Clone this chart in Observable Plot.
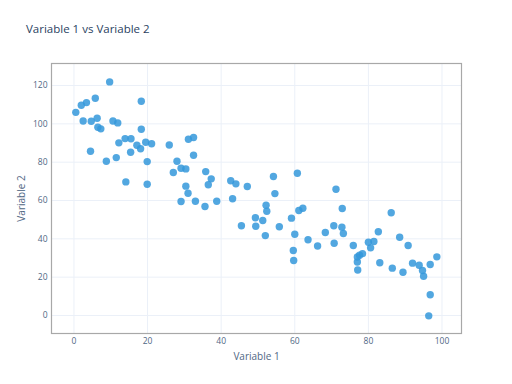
<!DOCTYPE html>
<html>
<head>
<meta charset="utf-8">
<script src="https://cdn.jsdelivr.net/npm/d3@7"></script>
<script src="https://cdn.jsdelivr.net/npm/@observablehq/plot@0.6"></script>
<style>
  html, body { margin: 0; padding: 0; background: #fff; }
  #wrap { position: relative; width: 512px; height: 384px; }
  #title { position: absolute; left: 26px; top: 21px; font: 11.5px "Open Sans", sans-serif; color: #2a3f5f; }
</style>
</head>
<body>
<div id="wrap"><div id="title">Variable 1 vs Variable 2</div></div>
<script>
const variable1 = [9.7,5.8,3.4,2.0,0.5,18.3,2.5,4.7,6.3,6.5,7.3,10.6,11.9,18.3,4.5,12.2,13.9,15.5,17.1,18.1,19.5,21.1,15.4,8.8,11.5,19.9,14.1,19.9,25.9,31.1,32.5,32.5,28.0,27.0,29.1,30.4,35.8,37.3,36.5,30.4,31.0,29.1,33.0,35.6,38.8,42.6,44.0,43.1,47.1,54.2,54.6,52.2,52.4,49.3,51.3,45.5,49.4,52.0,55.8,60.7,71.2,72.9,62.2,61.1,59.1,60.0,63.6,66.2,68.3,70.6,72.8,73.2,70.7,59.6,59.7,75.9,77.0,77.6,78.4,77.0,77.1,80.0,80.6,86.2,82.7,88.5,90.8,81.5,83.1,86.5,89.4,92.0,93.8,94.7,95.0,96.8,98.6,96.8,96.4];
const variable2 = [121.9,113.4,111.1,109.7,106.0,111.8,101.5,101.4,102.9,98.2,97.4,101.5,100.5,97.2,85.7,90.1,92.3,92.2,88.8,87.0,90.4,89.6,85.2,80.5,82.4,80.3,69.7,68.5,89.0,92.0,92.9,83.6,80.5,74.6,76.8,76.5,75.1,71.3,68.2,67.5,63.8,59.5,59.6,56.9,59.6,70.3,68.7,60.9,67.3,72.5,63.6,57.5,54.4,51.0,49.6,46.8,46.6,41.7,46.3,74.2,65.9,55.8,56.0,54.8,50.8,42.4,39.5,36.3,43.3,46.8,46.1,42.8,37.7,33.9,28.7,36.5,30.5,31.5,32.3,27.9,23.7,38.2,35.3,53.6,43.7,40.8,36.5,38.6,27.5,24.7,22.6,27.3,26.2,23.5,20.5,26.6,30.6,10.8,-0.2];
const xTicks = [0, 20, 40, 60, 80, 100];
const yTicks = [0, 20, 40, 60, 80, 100, 120];

const data = variable1.map((v, i) => ({x: v, y: variable2[i]}));

const chart = Plot.plot({
  width: 512,
  height: 384,
  marginLeft: 51,
  marginRight: 51,
  marginTop: 63,
  marginBottom: 51,
  style: {fontFamily: "'Open Sans', sans-serif", color: "#506784", background: "transparent"},
  x: {domain: [-6.1, 105.3]},
  y: {domain: [-9.4, 131.5]},
  marks: [
    Plot.gridX(xTicks, {stroke: "#ebf0f8", strokeOpacity: 1}),
    Plot.gridY(yTicks, {stroke: "#ebf0f8", strokeOpacity: 1}),
    Plot.frame({stroke: "#a8a8a8", strokeWidth: 1.2}),
    Plot.axisX(xTicks, {tickSize: 0, tickPadding: 4, fontSize: 8.5, label: null}),
    Plot.axisY(yTicks, {tickSize: 0, tickPadding: 4, fontSize: 8.5, label: null}),
    Plot.axisX({label: "Variable 1", ticks: [], tickSize: 0, labelAnchor: "center", labelArrow: "none", labelOffset: 26, fontSize: 10}),
    Plot.axisY({label: "Variable 2", ticks: [], tickSize: 0, labelAnchor: "center", labelArrow: "none", labelOffset: 34, fontSize: 10}),
    Plot.dot(data, {x: "x", y: "y", r: 3.7, fill: "#3498db", fillOpacity: 0.85, stroke: "none"})
  ]
});
chart.style.position = "absolute";
chart.style.left = "0";
chart.style.top = "0";
document.getElementById("wrap").appendChild(chart);
document.getElementById("wrap").appendChild(document.getElementById("title"));
</script>
</body>
</html>
